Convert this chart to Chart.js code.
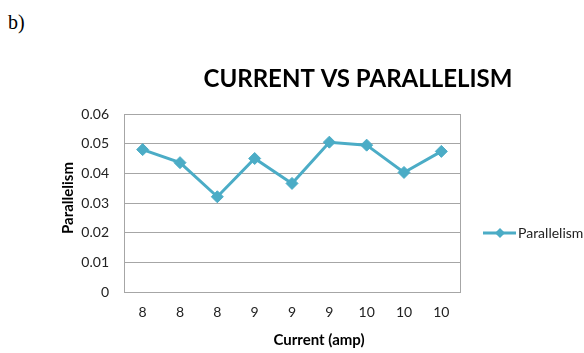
<!DOCTYPE html>
<html>
<head>
<meta charset="utf-8">
<script src="https://cdn.jsdelivr.net/npm/chart.js@4/dist/chart.umd.min.js"></script>
<style>
  html, body { margin: 0; padding: 0; background: #fff; }
  #wrap { position: relative; width: 584px; height: 353px; overflow: hidden; }
  #tag { position: absolute; left: 8px; top: 11px; font: 20px "Liberation Serif", serif; color: #000; }
  canvas { position: absolute; left: 0; top: 0; }
</style>
</head>
<body>
<div id="wrap">
  <div id="tag">b)</div>
  <canvas id="c" width="584" height="353"></canvas>
</div>
<script>
// Current settings (amp) and measured parallelism for each run
const currentLabels = ['8', '8', '8', '9', '9', '9', '10', '10', '10'];
const parallelism = [0.048, 0.0436, 0.0321, 0.0450, 0.0366, 0.0505, 0.0495, 0.0403, 0.0474];
const yTicks = [0, 0.01, 0.02, 0.03, 0.04, 0.05, 0.06];

const seriesName = 'Parallelism';
const chartTitle = 'CURRENT VS PARALLELISM';
const xTitle = 'Current (amp)';
const yTitle = 'Parallelism';

const LINE = '#4BACC6';
const FONT = 'Lato, "Open Sans", sans-serif';

// Frame around the plot area, titles and the right-hand legend
const decorations = {
  id: 'decorations',
  beforeDatasetsDraw(chart) {
    const { ctx, chartArea: a } = chart;
    ctx.save();
    ctx.strokeStyle = '#a6a6a6';
    ctx.lineWidth = 1;
    ctx.strokeRect(Math.round(a.left) + 0.5, Math.round(a.top) + 0.5,
                   Math.round(a.right - a.left), Math.round(a.bottom - a.top));
    ctx.restore();
  },
  afterDraw(chart) {
    const { ctx } = chart;
    ctx.save();
    ctx.fillStyle = '#000';
    ctx.textAlign = 'center';
    ctx.textBaseline = 'middle';

    ctx.font = 'bold 24px ' + FONT;
    ctx.fillText(chartTitle, 358, 79);

    ctx.font = 'bold 15px ' + FONT;
    ctx.fillText(xTitle, 319, 340);

    ctx.save();
    ctx.translate(68, 198);
    ctx.rotate(-Math.PI / 2);
    ctx.fillText(yTitle, 0, 0);
    ctx.restore();

    // legend entry
    const ds = chart.data.datasets[0];
    ctx.strokeStyle = ds.borderColor;
    ctx.lineWidth = 3;
    ctx.beginPath();
    ctx.moveTo(483, 233);
    ctx.lineTo(516, 233);
    ctx.stroke();
    ctx.fillStyle = ds.backgroundColor;
    ctx.beginPath();
    ctx.moveTo(500, 228);
    ctx.lineTo(505, 233);
    ctx.lineTo(500, 238);
    ctx.lineTo(495, 233);
    ctx.closePath();
    ctx.fill();

    ctx.fillStyle = '#222';
    ctx.font = '14px ' + FONT;
    ctx.textAlign = 'left';
    ctx.fillText(ds.label, 518, 233);
    ctx.restore();
  }
};

new Chart(document.getElementById('c'), {
  type: 'line',
  data: {
    labels: currentLabels,
    datasets: [{
      label: seriesName,
      data: parallelism,
      borderColor: LINE,
      backgroundColor: LINE,
      borderWidth: 3,
      pointStyle: 'rectRot',
      pointRadius: 6,
      pointHoverRadius: 6,
      pointBorderWidth: 1,
      pointBorderColor: LINE,
      tension: 0
    }]
  },
  options: {
    responsive: false,
    animation: false,
    devicePixelRatio: 1,
    layout: { padding: { left: 0, top: 114, right: 124, bottom: 0 } },
    plugins: { legend: { display: false }, title: { display: false }, tooltip: { enabled: false } },
    scales: {
      x: {
        offset: true,
        grid: { display: false, drawTicks: false },
        border: { display: true, color: '#a6a6a6' },
        ticks: { color: '#222', font: { family: FONT, size: 14 }, padding: 12, maxRotation: 0 },
        afterFit(s) { s.height = 61; }
      },
      y: {
        min: 0,
        max: 0.06,
        afterBuildTicks(s) { s.ticks = yTicks.map(v => ({ value: v })); },
        grid: { color: '#a6a6a6', drawTicks: false },
        border: { display: true, color: '#a6a6a6' },
        ticks: {
          color: '#222',
          font: { family: FONT, size: 14 },
          padding: 15,
          callback: v => String(Number(v.toFixed(2)))
        },
        afterFit(s) { s.width = 124; }
      }
    }
  },
  plugins: [decorations]
});
</script>
</body>
</html>
